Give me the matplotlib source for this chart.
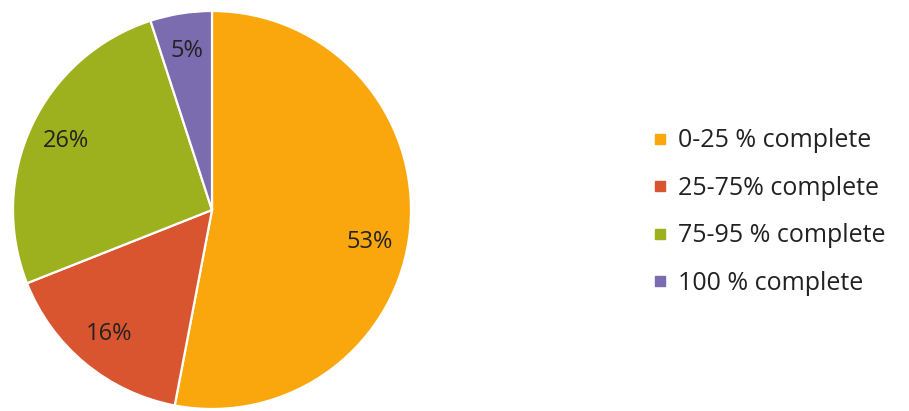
import matplotlib
matplotlib.use("Agg")
import numpy as np
import matplotlib.pyplot as plt
from matplotlib.lines import Line2D

categories = ["0-25 % complete", "25-75% complete", "75-95 % complete", "100 % complete"]
values = [53, 16, 26, 5]
colors = ["#F9A70C", "#D95530", "#9DB11F", "#7A6CAE"]

plt.rcParams['font.family'] = ['Open Sans', 'DejaVu Sans']

fig = plt.figure(figsize=(9.09, 4.11), dpi=100)
W, H = 909, 411
cx, cy, r = 212, 210, 199
ax = fig.add_axes([(cx - r) / W, (H - cy - r) / H, 2 * r / W, 2 * r / H])
wedges, texts, autotexts = ax.pie(
    values, colors=colors, startangle=90, counterclock=False,
    autopct=lambda p: f"{p:.0f}%", pctdistance=0.81, radius=1,
    wedgeprops=dict(edgecolor="white", linewidth=1.6),
    textprops=dict(fontsize=17, color="#222222"))
# nudge the large slice label lower, like the original
th = np.deg2rad(-11.5)
autotexts[0].set_position((0.81 * np.cos(th), 0.81 * np.sin(th)))
ax.set_xlim(-1, 1)
ax.set_ylim(-1, 1)
ax.set_aspect("equal")
ax.axis("off")

handles = [Line2D([0], [0], marker='s', linestyle='none', markersize=7,
                  markerfacecolor=c, markeredgecolor=c) for c in colors]
fig.legend(handles, categories, loc="center left", bbox_to_anchor=(0.705, 0.484),
           frameon=False, fontsize=18, handlelength=0.55, handletextpad=0.45,
           labelspacing=0.9, borderpad=0, labelcolor="#222222")

fig.savefig("out.png", dpi=100, facecolor="white")
